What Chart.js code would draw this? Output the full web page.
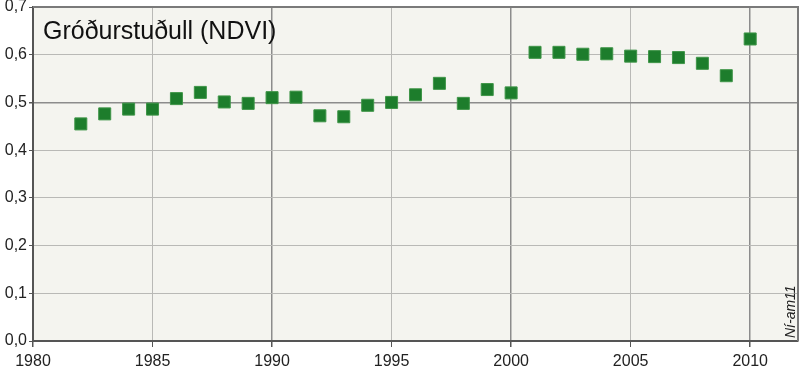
<!DOCTYPE html>
<html>
<head>
<meta charset="utf-8">
<script src="https://cdn.jsdelivr.net/npm/chart.js@4"></script>
<style>
  html, body { margin: 0; padding: 0; background: #fff; }
  #wrap { width: 800px; height: 366px; position: relative; }
</style>
</head>
<body>
<div id="wrap"><canvas id="ndvi"></canvas></div>
<script>
// ár og NDVI gildi lesin af myndinni
const ar = [1982, 1983, 1984, 1985, 1986, 1987, 1988, 1989, 1990, 1991,
            1992, 1993, 1994, 1995, 1996, 1997, 1998, 1999, 2000, 2001,
            2002, 2003, 2004, 2005, 2006, 2007, 2008, 2009, 2010];
const ndvi = [0.455, 0.476, 0.486, 0.486, 0.508, 0.521, 0.501, 0.498, 0.510, 0.511,
              0.472, 0.470, 0.494, 0.500, 0.516, 0.540, 0.498, 0.527, 0.520, 0.605,
              0.605, 0.601, 0.602, 0.597, 0.596, 0.594, 0.582, 0.556, 0.633];
const xTicks = [1980, 1985, 1990, 1995, 2000, 2005, 2010];
const yTicks = [0, 0.1, 0.2, 0.3, 0.4, 0.5, 0.6, 0.7];
const titill = "Gróðurstuðull (NDVI)";
const heimild = "Ní-am11";

const punktar = ar.map((a, i) => ({ x: a, y: ndvi[i] }));

const bakgrunnur = {
  id: 'bakgrunnur',
  beforeDraw(chart) {
    const { ctx, chartArea: c } = chart;
    ctx.save();
    ctx.fillStyle = '#f4f4ef';
    ctx.fillRect(c.left, c.top, c.right - c.left, c.bottom - c.top);
    ctx.restore();
  },
  afterDatasetsDraw(chart) {
    const { ctx, chartArea: c } = chart;
    ctx.save();
    // rammi efst og hægra megin
    ctx.strokeStyle = '#7a7a7a';
    ctx.lineWidth = 2;
    ctx.beginPath();
    ctx.moveTo(c.left, c.top);
    ctx.lineTo(c.right, c.top);
    ctx.lineTo(c.right, c.bottom);
    ctx.stroke();
    // titill
    ctx.fillStyle = '#111';
    ctx.font = '25px "Liberation Sans", Arial, sans-serif';
    ctx.textBaseline = 'alphabetic';
    ctx.fillText(titill, c.left + 10, c.top + 32);
    // heimild lóðrétt
    ctx.translate(c.right - 3, c.bottom - 3);
    ctx.rotate(-Math.PI / 2);
    ctx.font = 'italic 14px "Liberation Sans", Arial, sans-serif';
    ctx.fillStyle = '#222';
    ctx.textAlign = 'left';
    ctx.fillText(heimild, 0, 0);
    ctx.restore();
  }
};

const graf = new Chart(document.getElementById('ndvi').getContext('2d'), {
  type: 'scatter',
  data: {
    datasets: [{
      label: 'NDVI',
      data: punktar,
      pointStyle: 'rect',
      pointRadius: 8.5,
      pointHoverRadius: 8.5,
      backgroundColor: '#1d7d2c',
      borderColor: '#3f9548',
      borderWidth: 1
    }]
  },
  options: {
    responsive: true,
    maintainAspectRatio: false,
    animation: false,
    layout: { padding: { top: 7, right: 2, left: 0, bottom: 0 } },
    plugins: {
      legend: { display: false },
      tooltip: { enabled: false }
    },
    scales: {
      x: {
        type: 'linear',
        min: 1980,
        max: 2012,
        afterBuildTicks: s => { s.ticks = xTicks.map(v => ({ value: v })); },
        afterFit: s => { s.height = 25; s.paddingLeft = 0; s.paddingRight = 0; },
        ticks: {
          autoSkip: false,
          maxRotation: 0,
          padding: 5,
          color: '#222',
          font: { family: '"Liberation Sans", Arial, sans-serif', size: 16 },
          callback: v => String(v)
        },
        grid: {
          color: ctx => (ctx.tick && ctx.tick.value % 10 === 0) ? '#8c8c8c' : '#b9b9b6',
          lineWidth: ctx => (ctx.tick && ctx.tick.value % 10 === 0) ? 1.5 : 1,
          tickLength: 6,
          tickColor: '#555'
        },
        border: { color: '#555', width: 2 }
      },
      y: {
        min: 0,
        max: 0.7,
        afterBuildTicks: s => { s.ticks = yTicks.map(v => ({ value: v })); },
        afterFit: s => { s.width = 33; s.paddingTop = 0; s.paddingBottom = 0; },
        ticks: {
          padding: 2,
          color: '#222',
          font: { family: '"Liberation Sans", Arial, sans-serif', size: 16 },
          callback: v => v.toFixed(1).replace('.', ',')
        },
        grid: {
          color: ctx => (ctx.tick && Math.abs(ctx.tick.value - 0.5) < 1e-6) ? '#8c8c8c' : '#b9b9b6',
          lineWidth: ctx => (ctx.tick && Math.abs(ctx.tick.value - 0.5) < 1e-6) ? 1.5 : 1,
          tickLength: 4,
          tickColor: '#555'
        },
        border: { color: '#555', width: 2 }
      }
    }
  },
  plugins: [bakgrunnur]
});

// punktarnir eiga ekki að taka pláss utan um teiknisvæðið
graf.getDatasetMeta(0).controller.getMaxOverflow = () => 0;
graf.update();
</script>
</body>
</html>
